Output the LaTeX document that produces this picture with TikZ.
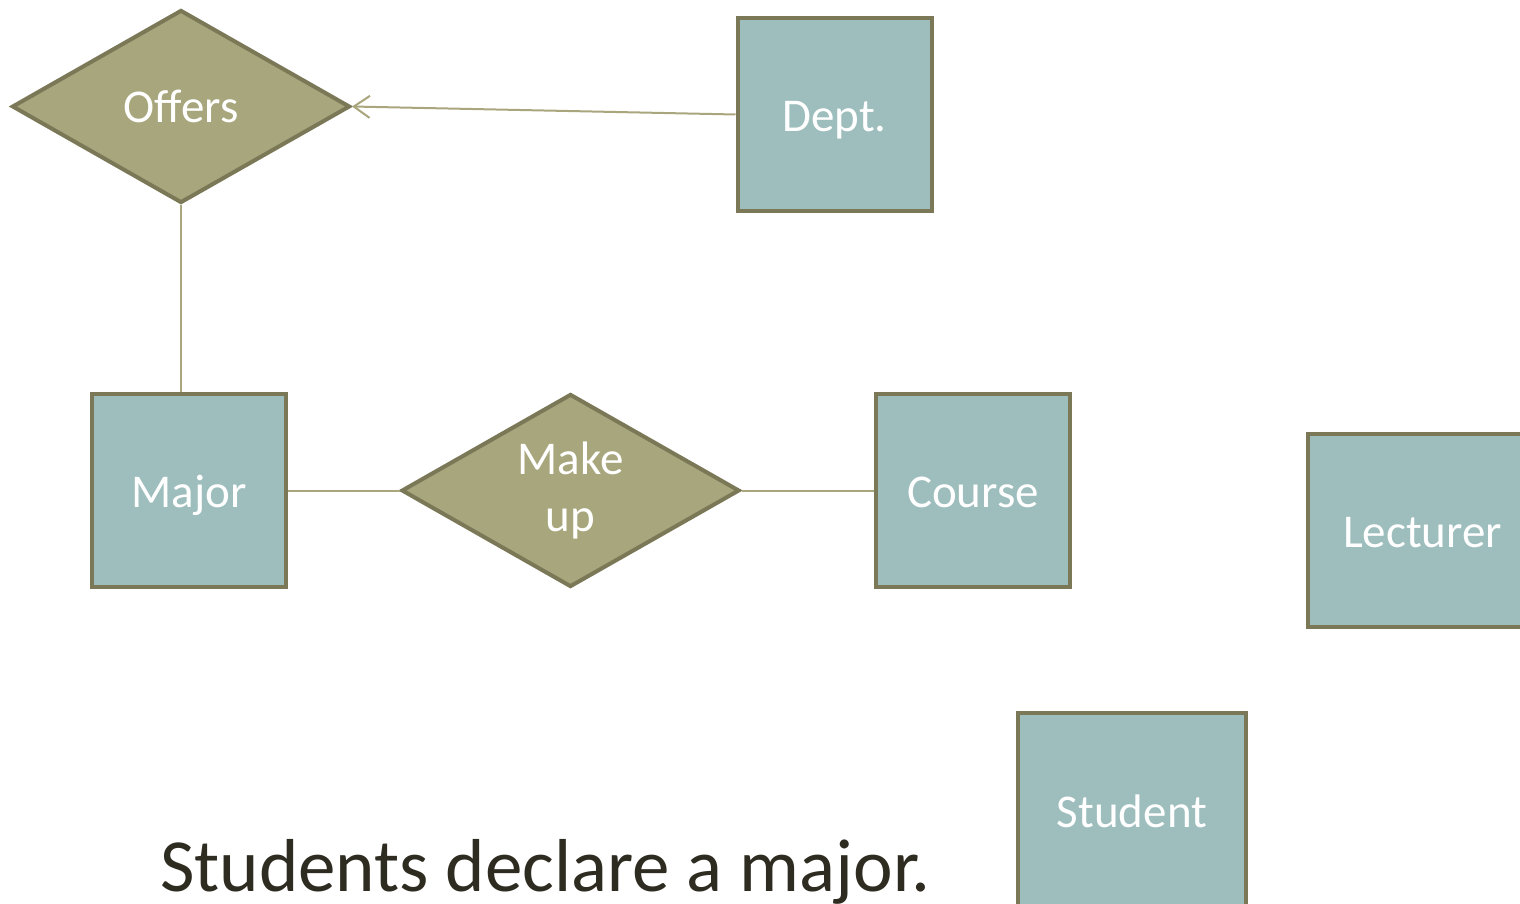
\documentclass[tikz,border=0pt]{standalone}
\usepackage{fontspec}
\setmainfont{Carlito}
\usetikzlibrary{shapes.geometric,arrows.meta}
\definecolor{boxfill}{HTML}{9DBEBD}
\definecolor{relfill}{HTML}{A8A67C}
\definecolor{edge}{HTML}{7A7856}
\definecolor{link}{HTML}{A9A67E}
\definecolor{captext}{HTML}{2E2B21}
\begin{document}
\begin{tikzpicture}[x=1pt,y=-1pt,
    entity/.style={draw=edge,line width=4pt,fill=boxfill,minimum width=194pt,minimum height=193pt,inner sep=0pt,text height=34pt,text depth=0pt,text=white,font=\fontsize{47}{57}\selectfont},
    relation/.style={diamond,draw=edge,line width=4pt,fill=relfill,aspect=1.75,minimum width=338pt,minimum height=193pt,inner sep=0pt,text=white,align=center,font=\fontsize{47}{57}\selectfont},
    link/.style={draw=link,line width=2pt}]
    \clip (0,0) rectangle (1520,904);
    \fill[white] (0,0) rectangle (1520,904);
    % relationships
    \node[relation] (offers) at (181,106.5) {Offers};
    \node[relation] (makeup) at (570.5,490.5) {Make\\up\rule[-4pt]{0pt}{4pt}};
    % entities
    \node[entity] (dept) at (834.5,114.5) {Dept.};
    \node[entity] (major) at (189,490.5) {Major};
    \node[entity] (course) at (973,490.5) {Course};
    \node[entity,minimum width=229pt] (lecturer) at (1422.5,530.5) {Lecturer};
    \node[entity,minimum width=228pt,minimum height=195pt] (student) at (1132,810.5) {Student};
    % connectors
    \draw[link,-{Straight Barb[length=16pt,width=22pt]}] (dept.west) -- (offers.east);
    \draw[link] (offers.south) -- (offers.south |- major.north);
    \draw[link] (major.east) -- (makeup.west);
    \draw[link] (makeup.east) -- (course.west);
    \node[anchor=base west,inner sep=0pt,text=captext,font=\fontsize{75}{88}\selectfont] (caption) at (160,891) {Students declare a major.};
\end{tikzpicture}
\end{document}
